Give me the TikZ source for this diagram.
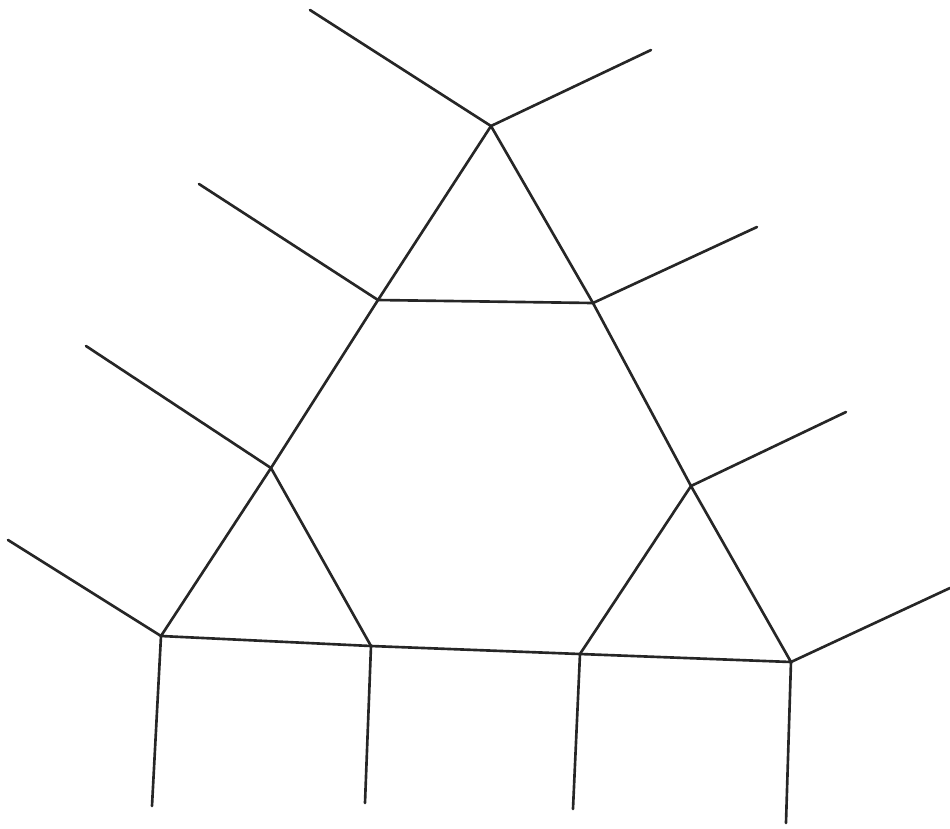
\documentclass[tikz,border=0pt]{standalone}
\begin{document}
\begin{tikzpicture}[x=0.01cm,y=-0.01cm,edge/.style={line width=0.75pt,draw=black!85,line cap=round,line join=round}]
\useasboundingbox (0,0) rectangle (950,829);
% inner vertices
\coordinate (A) at (491,126);
\coordinate (B) at (378,300);
\coordinate (C) at (593,303);
\coordinate (D) at (271,468);
\coordinate (E) at (691,486);
\coordinate (F) at (161,636);
\coordinate (G) at (371,646);
\coordinate (H) at (580,654);
\coordinate (I) at (791,662);
% free ends
\coordinate (a1) at (310,10);
\coordinate (a2) at (651,50);
\coordinate (b1) at (199,184);
\coordinate (c1) at (757,227);
\coordinate (d1) at (86,346);
\coordinate (e1) at (846,412);
\coordinate (f1) at (8,540);
\coordinate (f2) at (152,806);
\coordinate (g1) at (365,803);
\coordinate (h1) at (573,809);
\coordinate (i1) at (950,588);
\coordinate (i2) at (786,823);
% triangle edges
\draw[edge] (A) -- (B) -- (D) -- (F) -- (G) -- (H) -- (I) -- (E) -- (C) -- (A);
\draw[edge] (B) -- (C);
\draw[edge] (D) -- (G);
\draw[edge] (E) -- (H);
% outer legs
\draw[edge] (A) -- (a1);
\draw[edge] (A) -- (a2);
\draw[edge] (B) -- (b1);
\draw[edge] (C) -- (c1);
\draw[edge] (D) -- (d1);
\draw[edge] (E) -- (e1);
\draw[edge] (F) -- (f1);
\draw[edge] (F) -- (f2);
\draw[edge] (G) -- (g1);
\draw[edge] (H) -- (h1);
\draw[edge] (I) -- (i1);
\draw[edge] (I) -- (i2);
\end{tikzpicture}
\end{document}
